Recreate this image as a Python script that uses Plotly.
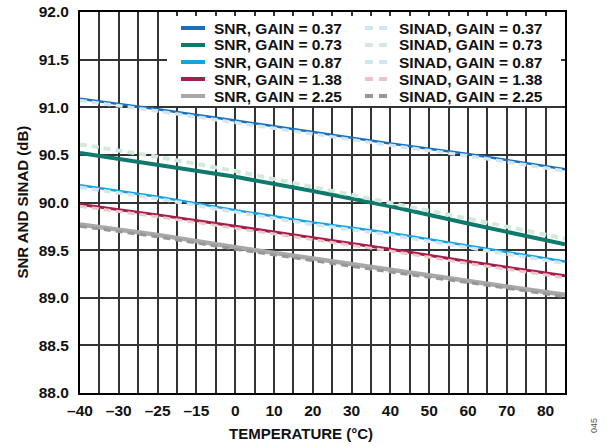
import plotly.graph_objects as go

# ---------------- data ----------------
temps = [-40, -20, 0, 20, 40, 60, 85]

snr_037 = [91.09, 90.98, 90.86, 90.74, 90.62, 90.51, 90.35]
snr_073 = [90.52, 90.40, 90.27, 90.12, 89.96, 89.78, 89.56]
snr_087 = [90.18, 90.06, 89.92, 89.79, 89.68, 89.55, 89.38]
snr_138 = [89.98, 89.87, 89.75, 89.63, 89.51, 89.38, 89.23]
snr_225 = [89.77, 89.66, 89.53, 89.41, 89.29, 89.18, 89.03]

sinad_037 = [91.07, 90.96, 90.84, 90.72, 90.60, 90.49, 90.33]
sinad_073 = [90.61, 90.48, 90.33, 90.16, 90.00, 89.83, 89.62]
sinad_087 = [90.16, 90.04, 89.90, 89.77, 89.66, 89.53, 89.36]
sinad_138 = [89.96, 89.85, 89.73, 89.61, 89.49, 89.36, 89.21]
sinad_225 = [89.75, 89.64, 89.51, 89.39, 89.27, 89.16, 89.01]

snr_names = ["SNR, GAIN = 0.37", "SNR, GAIN = 0.73", "SNR, GAIN = 0.87",
             "SNR, GAIN = 1.38", "SNR, GAIN = 2.25"]
sinad_names = ["SINAD, GAIN = 0.37", "SINAD, GAIN = 0.73", "SINAD, GAIN = 0.87",
               "SINAD, GAIN = 1.38", "SINAD, GAIN = 2.25"]

x_tickvals = [-40, -30, -20, -10, 0, 10, 20, 30, 40, 50, 60, 70, 80]
x_ticktext = ["\u201340", "\u201330", "\u201325", "\u201315", "0", "10", "20",
              "30", "40", "50", "60", "70", "80"]
y_tickvals = [88.0, 88.5, 89.0, 89.5, 90.0, 90.5, 91.0, 91.5, 92.0]

# ---------------- styles ----------------
snr_colors = ["#1a6fb9", "#0f7a6c", "#16a2de", "#a21f4b", "#a8a8a8"]
snr_widths = [2.5, 4, 2.5, 3, 4.5]
sinad_colors = ["#cfe6f7", "#d2eadc", "#cfe6f7", "#ecc6c6", "#979797"]
sinad_widths = [3.5, 4, 3.5, 3, 3]

FONT = "Liberation Sans, Arial, sans-serif"
W, H = 607, 446
L, R, T, B = 80, 565, 12, 393   # plot area in px

def px_x(px):
    return (px - L) / (R - L)

def px_y(py):
    return (B - py) / (B - T)

snr_series = [snr_037, snr_073, snr_087, snr_138, snr_225]
sinad_series = [sinad_037, sinad_073, sinad_087, sinad_138, sinad_225]

fig = go.Figure()
for name, ys, c, w in zip(snr_names, snr_series, snr_colors, snr_widths):
    fig.add_trace(go.Scatter(x=temps, y=ys, mode="lines", name=name,
                             line=dict(color=c, width=w), showlegend=False))
for name, ys, c, w in zip(sinad_names, sinad_series, sinad_colors, sinad_widths):
    fig.add_trace(go.Scatter(x=temps, y=ys, mode="lines", name=name,
                             line=dict(color=c, width=w, dash="7px,5px"),
                             showlegend=False))

# ---------------- legend (manual, two columns) ----------------
shapes = [dict(type="rect", xref="paper", yref="paper",
               x0=px_x(167), x1=px_x(561), y0=px_y(106), y1=px_y(16),
               fillcolor="white", line=dict(width=0), layer="above")]
annotations = []
rows = [28, 45, 62, 79, 96]
for i, yr in enumerate(rows):
    shapes.append(dict(type="line", xref="paper", yref="paper",
                       x0=px_x(181), x1=px_x(205), y0=px_y(yr), y1=px_y(yr),
                       line=dict(color=snr_colors[i], width=4), layer="above"))
    shapes.append(dict(type="line", xref="paper", yref="paper",
                       x0=px_x(365), x1=px_x(389), y0=px_y(yr), y1=px_y(yr),
                       line=dict(color=sinad_colors[i], width=4, dash="8px,6px"),
                       layer="above"))
    annotations.append(dict(text=snr_names[i], xref="paper", yref="paper",
                            x=px_x(212), y=px_y(yr), xanchor="left", yanchor="middle",
                            showarrow=False,
                            font=dict(family=FONT, size=15.5, color="#111", weight="bold")))
    annotations.append(dict(text=sinad_names[i], xref="paper", yref="paper",
                            x=px_x(397), y=px_y(yr), xanchor="left", yanchor="middle",
                            showarrow=False,
                            font=dict(family=FONT, size=15.5, color="#111", weight="bold")))

# axis titles and figure number
annotations.append(dict(text="TEMPERATURE (\u00b0C)", xref="paper", yref="paper",
                        x=px_x(301), y=px_y(433), xanchor="center", yanchor="middle",
                        showarrow=False,
                        font=dict(family=FONT, size=15, color="#111", weight="bold")))
annotations.append(dict(text="SNR AND SINAD (dB)", xref="paper", yref="paper",
                        x=px_x(22), y=0.5, xanchor="center", yanchor="middle",
                        textangle=-90, showarrow=False,
                        font=dict(family=FONT, size=15, color="#111", weight="bold")))
annotations.append(dict(text="045", xref="paper", yref="paper",
                        x=px_x(594), y=px_y(426), xanchor="center", yanchor="middle",
                        textangle=-90, showarrow=False,
                        font=dict(family=FONT, size=9, color="#555")))

fig.update_layout(
    width=W, height=H,
    margin=dict(l=L, r=W - R, t=T, b=H - B, pad=0, autoexpand=False),
    paper_bgcolor="white", plot_bgcolor="white",
    showlegend=False,
    shapes=shapes, annotations=annotations,
    font=dict(family=FONT, color="#111"),
)
fig.update_xaxes(
    range=[-40, 85], tickvals=x_tickvals, ticktext=x_ticktext,
    ticks="outside", ticklen=2, tickcolor="rgba(0,0,0,0)",
    tickfont=dict(family=FONT, size=15.5, color="#111", weight="bold"),
    showgrid=True, gridcolor="#333", gridwidth=1.5,
    minor=dict(tick0=-35, dtick=10, showgrid=True, gridcolor="#333", gridwidth=1.5),
    showline=True, linecolor="black", linewidth=2, mirror=True, zeroline=False,
    automargin=False,
)
fig.update_yaxes(
    range=[88, 92], tickvals=y_tickvals, tickformat=".1f",
    ticks="outside", ticklen=6, tickcolor="rgba(0,0,0,0)",
    tickfont=dict(family=FONT, size=15.5, color="#111", weight="bold"),
    showgrid=True, gridcolor="#333", gridwidth=1.5,
    showline=True, linecolor="black", linewidth=2, mirror=True, zeroline=False,
    automargin=False,
)

fig.write_html("out.html",
               config={"displayModeBar": False},
               post_script="document.body.style.margin='0';"
                           "document.body.style.overflow='hidden';")
